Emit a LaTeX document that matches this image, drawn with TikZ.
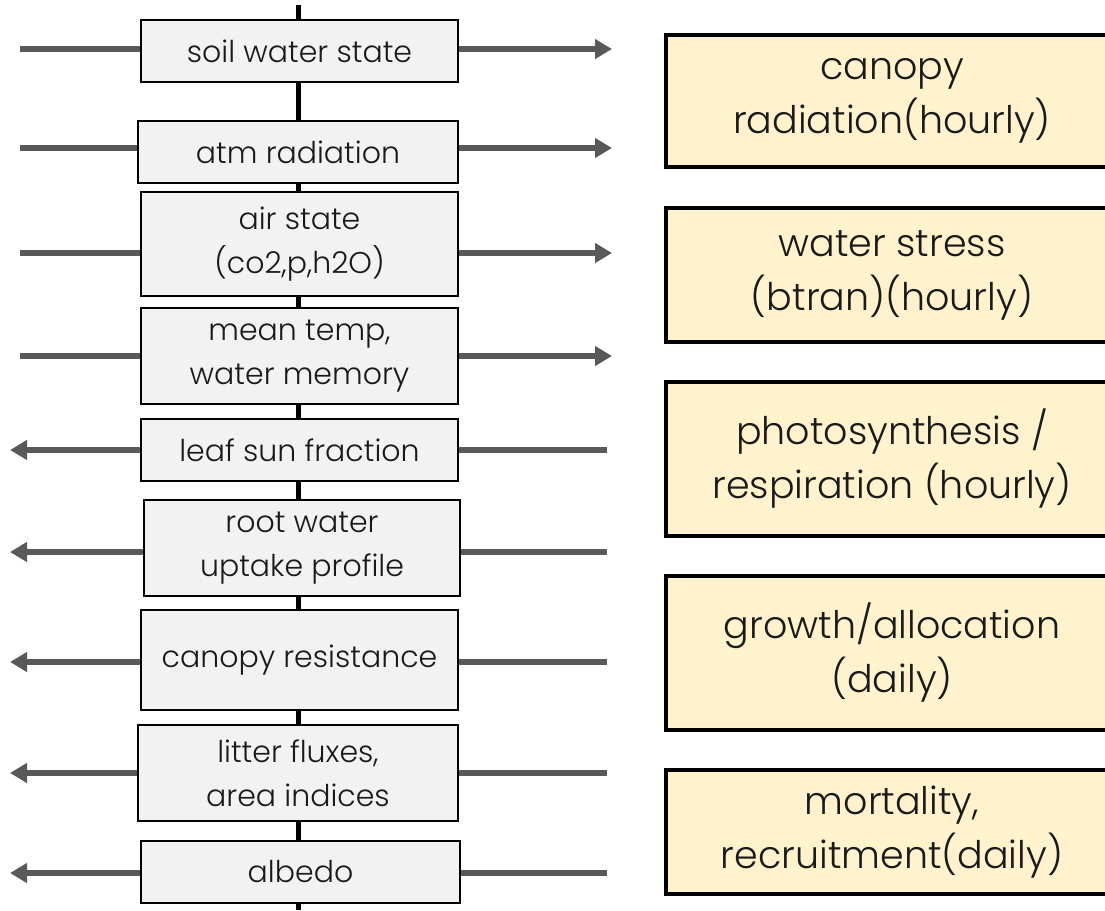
\documentclass[tikz,border=0pt]{standalone}
\usepackage{fontspec}
\setmainfont{Poppins Light}
\usetikzlibrary{arrows.meta}
\definecolor{boxgray}{HTML}{F2F2F2}
\definecolor{boxcream}{HTML}{FFF2CC}
\definecolor{flowgray}{HTML}{595959}
\definecolor{inkdark}{HTML}{1A1A1A}
\begin{document}
\begin{tikzpicture}[x=1pt,y=-1pt,
  varbox/.style={draw=black,line width=2.5pt,fill=boxgray,inner sep=0pt,
    align=center,text=inkdark,font=\fontsize{30}{44}\selectfont},
  procbox/.style={draw=black,line width=3.5pt,fill=boxcream,inner sep=0pt,
    align=center,text=inkdark,font=\fontsize{38}{54}\selectfont},
  flow/.style={draw=flowgray,line width=6pt},
  flowarrow/.style={flow,-{Triangle[length=17pt,width=19pt]}}]
\useasboundingbox (0,0) rectangle (1105,910);

% central column
\coordinate (top) at (298,5);
\coordinate (bottom) at (298,910);
\draw[line width=5pt] (top) -- (bottom);

% exchanged variables: name / left / right / top / bottom / text
\foreach \n/\xa/\xb/\ya/\yb/\text in {
  v1/141/458/20/82/{soil water state},
  v2/138/458/121/183/{atm radiation},
  v3/141/458/192/296/{air state\\(co2,p,h2O)},
  v4/141/458/308/404/{mean temp,\\water memory},
  v5/141/458/419/481/{leaf sun fraction},
  v6/144/460/500/596/{root water\\uptake profile},
  v7/141/458/610/710/{canopy resistance},
  v8/138/458/725/821/{litter fluxes,\\area indices},
  v9/141/460/841/903/{albedo}}{
  \node[varbox,minimum width={\xb-\xa},minimum height={\yb-\ya}]
    (\n) at ({(\xa+\xb)/2},{(\ya+\yb)/2}) {\text};
}

% incoming flows (upper rows) and outgoing flows (lower rows)
\foreach \n/\y in {v1/49,v2/148,v3/253,v4/356}{
  \coordinate (\n l) at (20,\y);
  \coordinate (\n r) at (612,\y);
  \draw[flow] (\n l) -- (\n l -| \n.west);
  \draw[flowarrow] (\n r -| \n.east) -- (\n r);
}
\foreach \n/\y in {v5/450,v6/552,v7/662,v8/773,v9/873}{
  \coordinate (\n l) at (10,\y);
  \coordinate (\n r) at (607,\y);
  \draw[flowarrow] (\n l -| \n.west) -- (\n l);
  \draw[flow] (\n r) -- (\n r -| \n.east);
}

% model processes
\foreach \n/\ya/\yb/\text in {
  p1/35/167/{canopy\\radiation(hourly)},
  p2/208/342/{water stress\\(btran)(hourly)},
  p3/382/536/{photosynthesis /\\respiration (hourly)},
  p4/576/730/{growth/allocation\\(daily)},
  p5/770/894/{mortality,\\recruitment(daily)}}{
  \node[procbox,minimum width=452pt,minimum height={\yb-\ya}]
    (\n) at (892,{(\ya+\yb)/2}) {\text};
}
\end{tikzpicture}
\end{document}
